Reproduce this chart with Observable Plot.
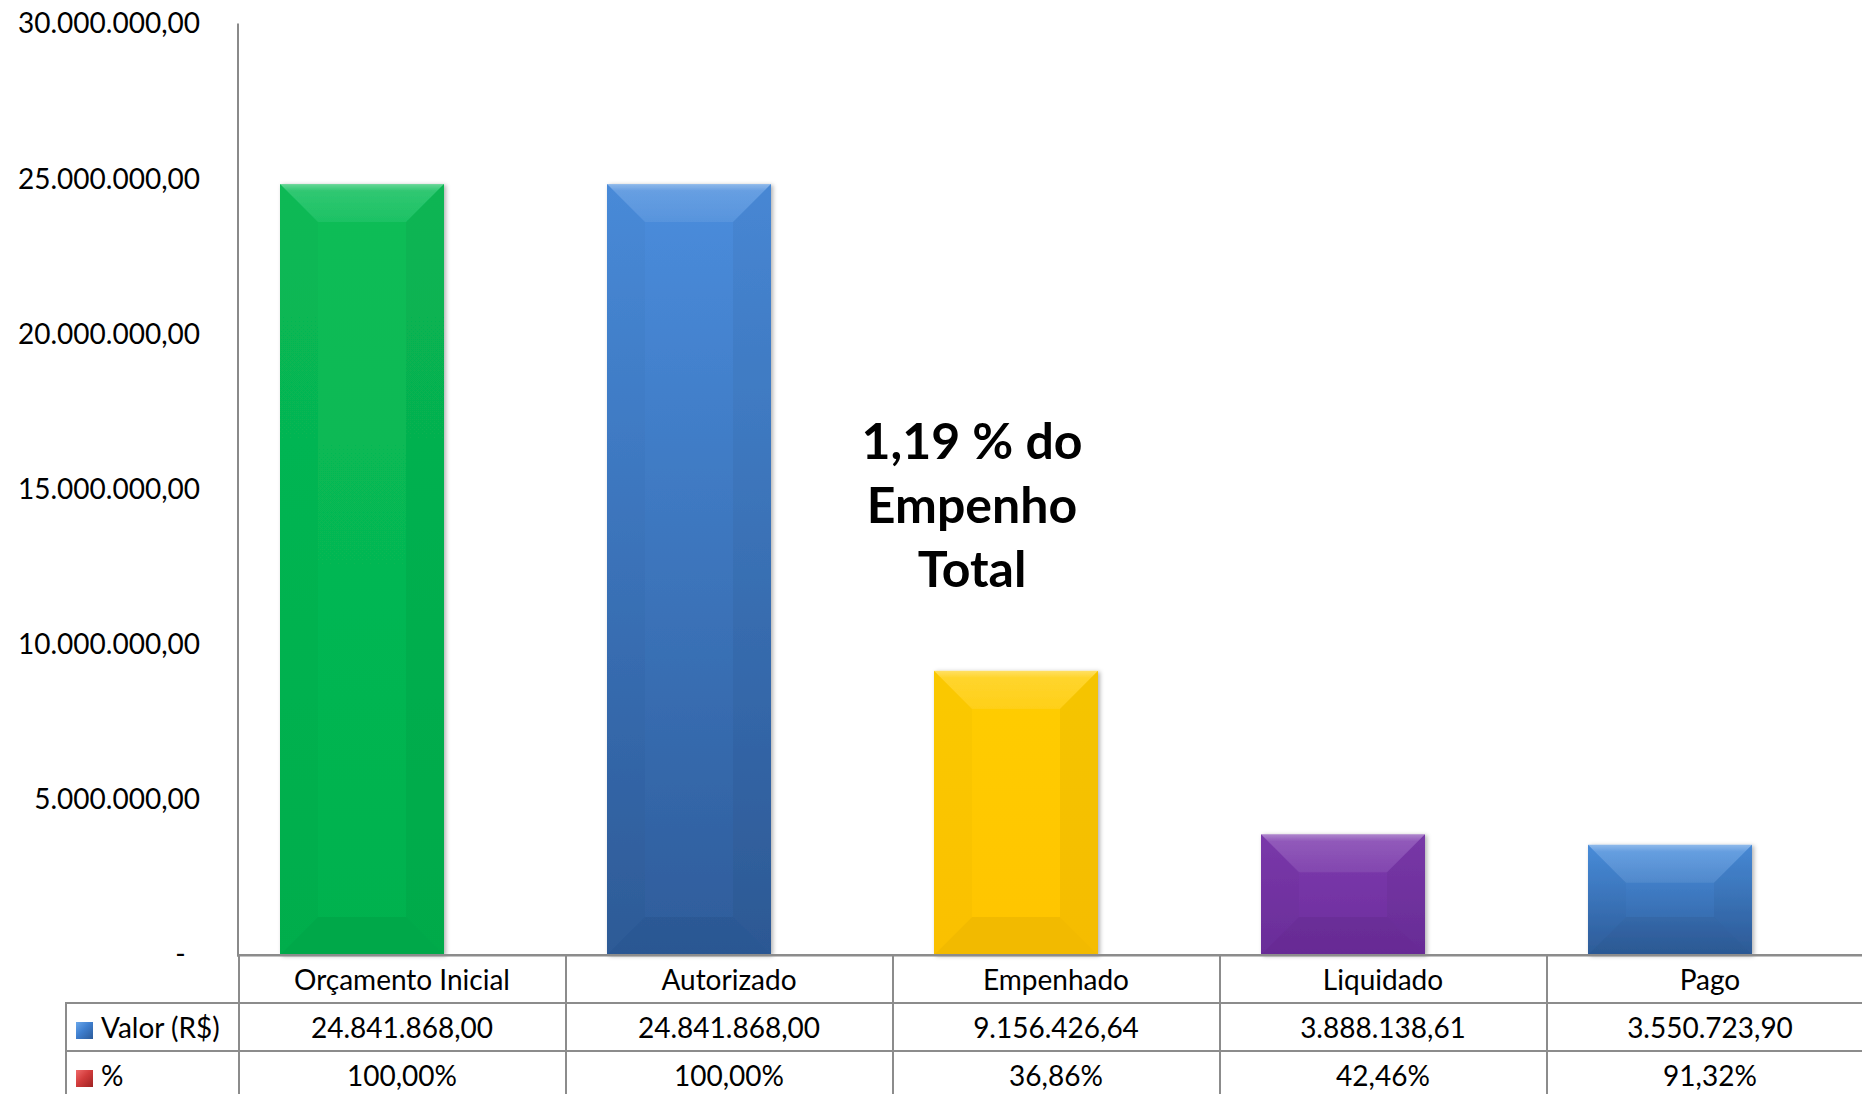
<!DOCTYPE html>
<html>
<head>
<meta charset="utf-8">
<script src="https://cdn.jsdelivr.net/npm/d3@7"></script>
<script src="https://cdn.jsdelivr.net/npm/@observablehq/plot@0.6"></script>
<style>
  html, body { margin: 0; padding: 0; background: #fff; }
  #chart { position: relative; width: 1862px; height: 1094px; overflow: hidden; background: #fff; font-family: Lato, "Open Sans", sans-serif; }
  #chart svg { position: absolute; left: 0; top: 0; }
  #tbl { position: absolute; top: 954px; left: 65px; border-collapse: collapse; table-layout: fixed;
         font-family: Lato, "Open Sans", sans-serif; font-size: 28px; color: #000; }
  #tbl td { border: 2px solid #8c8c8c; padding: 0; text-align: center; vertical-align: middle; white-space: nowrap; overflow: hidden; }
  #tbl tr { height: 48px; }
  #tbl td.lbl { text-align: left; padding-left: 9px; }
  #tbl td.corner { border-top: hidden; border-left: hidden; }
  .key { display: inline-block; width: 17px; height: 17px; margin-right: 8px; vertical-align: -1px; }
</style>
</head>
<body>
<div id="chart"></div>
<script>
// ---- data ----
const categories = ["Orçamento Inicial", "Autorizado", "Empenhado", "Liquidado", "Pago"];
const valores = [24841868.00, 24841868.00, 9156426.64, 3888138.61, 3550723.90];
const percentuais = [100.00, 100.00, 36.86, 42.46, 91.32];
const yTicks = [0, 5000000, 10000000, 15000000, 20000000, 25000000, 30000000];
const rowLabels = ["Valor (R$)", "%"];
const annotationText = "1,19 % do\nEmpenho\nTotal";
const annotationAt = "Empenhado";
const annotationValue = 14610000;

// ---- styles ----
const barGradients = [
  ["#09bd57", "#03b14e"],
  ["#4a8ddd", "#2e5c9a"],
  ["#ffcd05", "#ffc400"],
  ["#7d3bae", "#6c2d9c"],
  ["#4a8fde", "#2e5d9b"]
];

const loc = d3.formatLocale({decimal: ",", thousands: ".", grouping: [3], currency: ["R$", ""]});
const fmtNum = loc.format(",.2f");
const fmtPct = v => loc.format(".2f")(v) + "%";

const data = categories.map((c, i) => ({categoria: c, valor: valores[i], pct: percentuais[i]}));

const plotLeft = 237.5;
const colW = 327;

const plot = Plot.plot({
  width: 1862,
  height: 956,
  marginTop: 24,
  marginBottom: 1,
  marginLeft: plotLeft,
  marginRight: 0,
  style: {fontFamily: "Lato, 'Open Sans', sans-serif", fontSize: "28px", color: "#000", background: "transparent", overflow: "visible"},
  x: {domain: categories, range: [plotLeft, plotLeft + colW * categories.length], padding: 0, axis: null},
  y: {domain: [0, 30000000], axis: null},
  color: {domain: categories, range: categories.map((c, i) => `url(#barGrad${i})`)},
  marks: [
    Plot.barY(data, {x: "categoria", y: "valor", fill: "categoria", insetLeft: 42, insetRight: 121}),
    Plot.axisY({ticks: yTicks, tickSize: 0, tickPadding: 38, fontSize: 28, label: null,
      tickFormat: v => v === 0 ? "-\u00a0\u00a0" : fmtNum(v)}),
    Plot.frame({anchor: "left", stroke: "#8a8a8a", strokeWidth: 2}),
    Plot.frame({anchor: "bottom", stroke: "#8a8a8a", strokeWidth: 2}),
    Plot.text([annotationText], {x: () => annotationAt, y: () => annotationValue, text: d => d,
      dx: -84, fontSize: 50, fontWeight: "bold", lineHeight: 1.28, textAnchor: "middle", fill: "#000"})
  ]
});

const svg = d3.select(plot);
const defs = svg.insert("defs", ":first-child");
barGradients.forEach(([a, b], i) => {
  const g = defs.append("linearGradient").attr("id", `barGrad${i}`).attr("x1", 0).attr("y1", 0).attr("x2", 0).attr("y2", 1);
  g.append("stop").attr("offset", "0%").attr("stop-color", a);
  g.append("stop").attr("offset", "100%").attr("stop-color", b);
});
const hi = defs.append("linearGradient").attr("id", "topHi").attr("x1", 0).attr("y1", 0).attr("x2", 0).attr("y2", 1);
hi.append("stop").attr("offset", "0%").attr("stop-color", "#fff").attr("stop-opacity", 0.38);
hi.append("stop").attr("offset", "18%").attr("stop-color", "#fff").attr("stop-opacity", 0.16);
hi.append("stop").attr("offset", "100%").attr("stop-color", "#fff").attr("stop-opacity", 0.08);
const sh = defs.append("filter").attr("id", "barShadow").attr("x", "-10%").attr("y", "-10%").attr("width", "130%").attr("height", "130%");
sh.append("feDropShadow").attr("dx", 2).attr("dy", 1).attr("stdDeviation", 2).attr("flood-color", "#000").attr("flood-opacity", 0.3);

const barGroup = svg.select('g[aria-label="bar"]');
barGroup.attr("filter", "url(#barShadow)");
barGroup.selectAll("rect").each(function () {
  const r = d3.select(this);
  const x = +r.attr("x"), y = +r.attr("y"), w = +r.attr("width"), h = +r.attr("height");
  const b = Math.min(38, h / 2.5, w / 2.5);
  const parent = d3.select(this.parentNode);
  const poly = (pts, fill, op) => parent.append("polygon").attr("points", pts.map(p => p.join(",")).join(" ")).attr("fill", fill).attr("fill-opacity", op);
  poly([[x, y], [x + w, y], [x + w - b, y + b], [x + b, y + b]], "url(#topHi)", 1);
  poly([[x, y + h], [x + w, y + h], [x + w - b, y + h - b], [x + b, y + h - b]], "#000", 0.05);
  poly([[x, y], [x + b, y + b], [x + b, y + h - b], [x, y + h]], "#000", 0.02);
  poly([[x + w, y], [x + w - b, y + b], [x + w - b, y + h - b], [x + w, y + h]], "#000", 0.04);
});

const chart = d3.select("#chart");
chart.node().appendChild(plot);

// ---- data table below the plot, columns taken from the x scale ----
const xs = plot.scale("x");
const bw = xs.bandwidth !== undefined ? xs.bandwidth : colW;
const tableLeft = 65;
const table = chart.append("table").attr("id", "tbl");
const cg = table.append("colgroup");
cg.append("col").style("width", (xs.range[0] - tableLeft) + "px");
categories.forEach(() => cg.append("col").style("width", bw + "px"));
table.style("width", (xs.range[0] - tableLeft + bw * categories.length) + "px");

const r1 = table.append("tr");
r1.append("td").attr("class", "corner");
categories.forEach(c => r1.append("td").text(c));

const r2 = table.append("tr");
r2.append("td").attr("class", "lbl").html(`<span class="key" style="background:linear-gradient(135deg,#6aa7ea 0%,#3f7fcf 45%,#2c5b9a 100%)"></span>${rowLabels[0]}`);
valores.forEach(v => r2.append("td").text(fmtNum(v)));

const r3 = table.append("tr");
r3.append("td").attr("class", "lbl").html(`<span class="key" style="background:linear-gradient(135deg,#f06a6a 0%,#d23c3c 45%,#9e2222 100%)"></span>${rowLabels[1]}`);
percentuais.forEach(v => r3.append("td").text(fmtPct(v)));
</script>
</body>
</html>
